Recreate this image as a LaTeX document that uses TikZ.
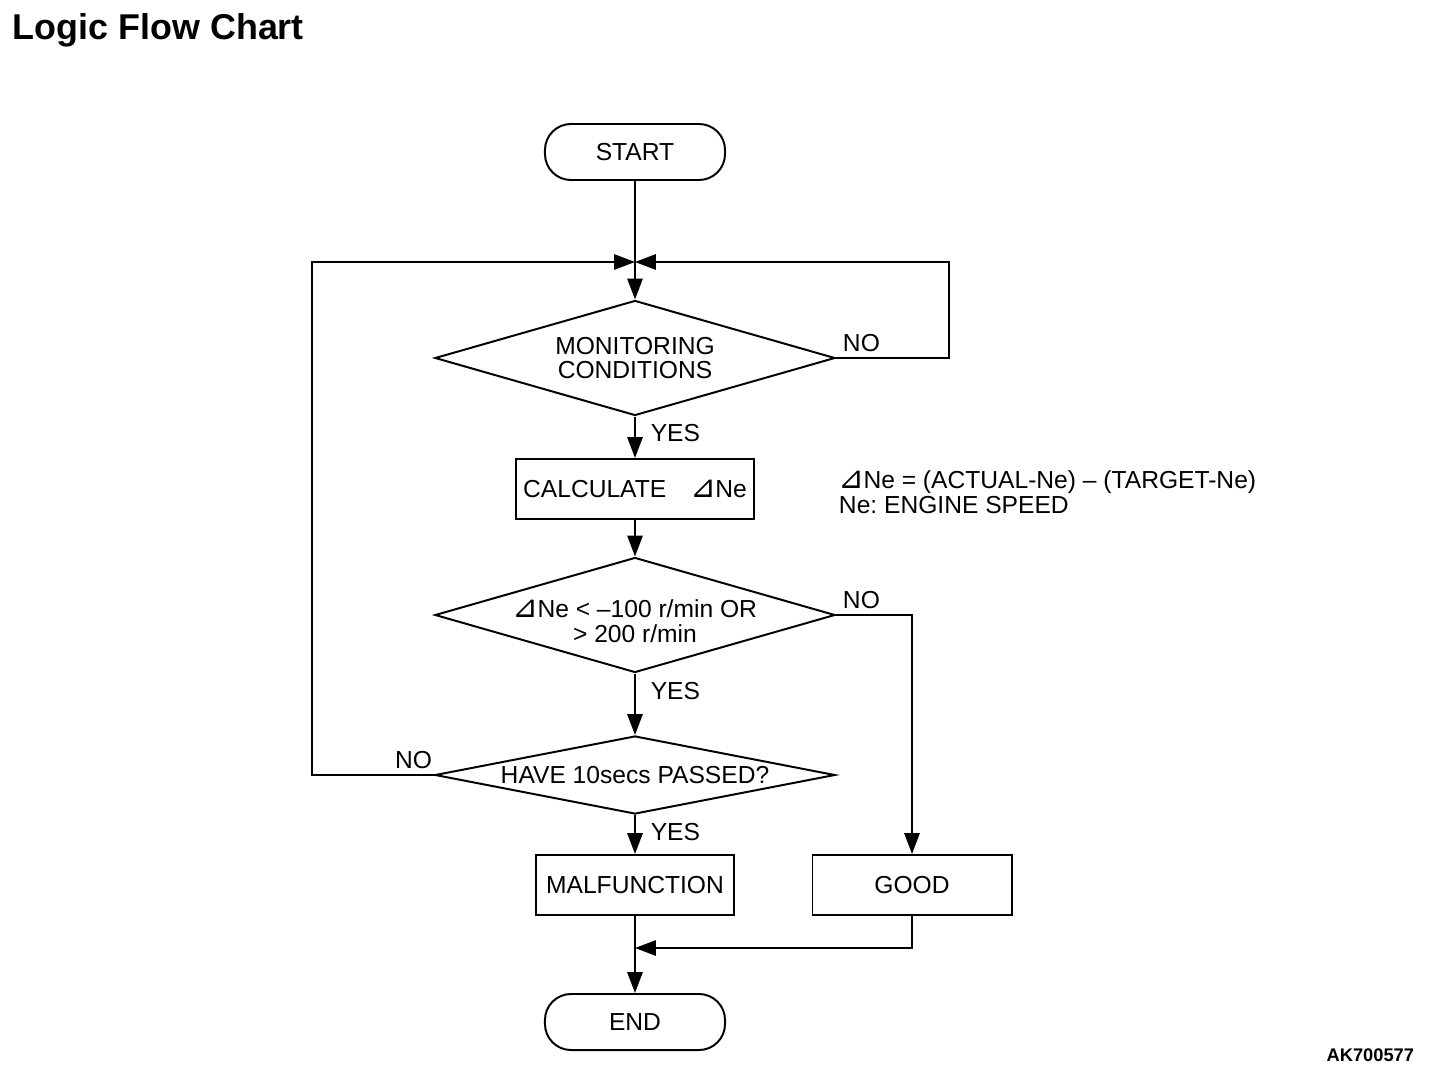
\documentclass[tikz,border=0pt]{standalone}
\usepackage{fontspec}
\setmainfont{Liberation Sans}
\newfontfamily\symfont{DejaVu Sans}
\usetikzlibrary{shapes.geometric, arrows.meta, positioning}
\newcommand{\dNe}{{\symfont\fontsize{22}{22}\selectfont ⊿\kern-1pt}Ne}

\begin{document}
\begin{tikzpicture}[x=0.025cm, y=-0.025cm, line width=1.4pt,
    >={Triangle[length=0.52cm, width=0.38cm]},
    every node/.style={font=\fontsize{17.5}{17.7}\selectfont},
    term/.style={draw, rounded corners=0.65cm, minimum width=4.5cm, minimum height=1.4cm},
    box/.style={draw, minimum height=1.5cm},
    decision/.style={draw, diamond, inner sep=0pt, minimum width=10cm, align=center},
    lbl/.style={inner sep=0pt},
    yes/.style={lbl, anchor=west, xshift=0.37cm}]

    \useasboundingbox (0,0) rectangle (1440,1072);

    \node[lbl, anchor=base west, font=\bfseries\fontsize{25.5}{28}\selectfont] (title) at (12,39) {Logic Flow Chart};

    \node[term] (start) at (635,152) {START};
    \coordinate (merge) at (635,262);
    \node[decision, aspect=3.5, minimum height=2.875cm] (mon) at (635,358) {MONITORING\\CONDITIONS};
    \node[box, minimum width=5.95cm] (calc) at (635,489) {CALCULATE\quad\dNe};
    \node[lbl, anchor=west, align=left] (note) at (838,492) {\dNe{} = (ACTUAL-Ne) -- (TARGET-Ne)\\Ne:\ ENGINE SPEED};
    \node[decision, aspect=3.5, minimum height=2.875cm, inner ysep=-4.5pt] (dev) at (635,615) {\rule{0pt}{22pt}\dNe{} < --100 r/min OR\\> 200 r/min};
    \node[decision, aspect=5.1, minimum height=1.95cm] (time) at (635,775) {HAVE 10secs PASSED?};
    \node[box, minimum width=4.95cm] (malf) at (635,885) {MALFUNCTION};
    \node[box, minimum width=4.975cm] (good) at (912,885) {GOOD};
    \coordinate (join) at (635,948);
    \node[term] (end) at (635,1022) {END};

    \node[lbl, anchor=base west] (no1) at (842,351) {NO};
    \node[lbl, anchor=base west] (no2) at (842,608) {NO};
    \node[lbl, anchor=base east] (no3) at (433,768) {NO};

    \node[lbl, anchor=base east, font=\bfseries\fontsize{13}{15}\selectfont] (code) at (1415,1061) {AK700577};

    \draw[->] (start) -- (mon);
    \draw[->] (mon.east) -- ++(113,0) |- (merge);
    \draw[->] (time.west) -- ++(-122,0) |- (merge);
    \draw[->] (mon) -- node[yes, pos=0.39]{YES} (calc);
    \draw[->] (calc) -- (dev);
    \draw[->] (dev) -- node[yes, pos=0.29]{YES} (time);
    \draw[->] (dev.east) -| (good);
    \draw[->] (time) -- node[yes, pos=0.44]{YES} (malf);
    \draw[->] (malf) -- (end);
    \draw[->] (good) |- (join);
\end{tikzpicture}
\end{document}
